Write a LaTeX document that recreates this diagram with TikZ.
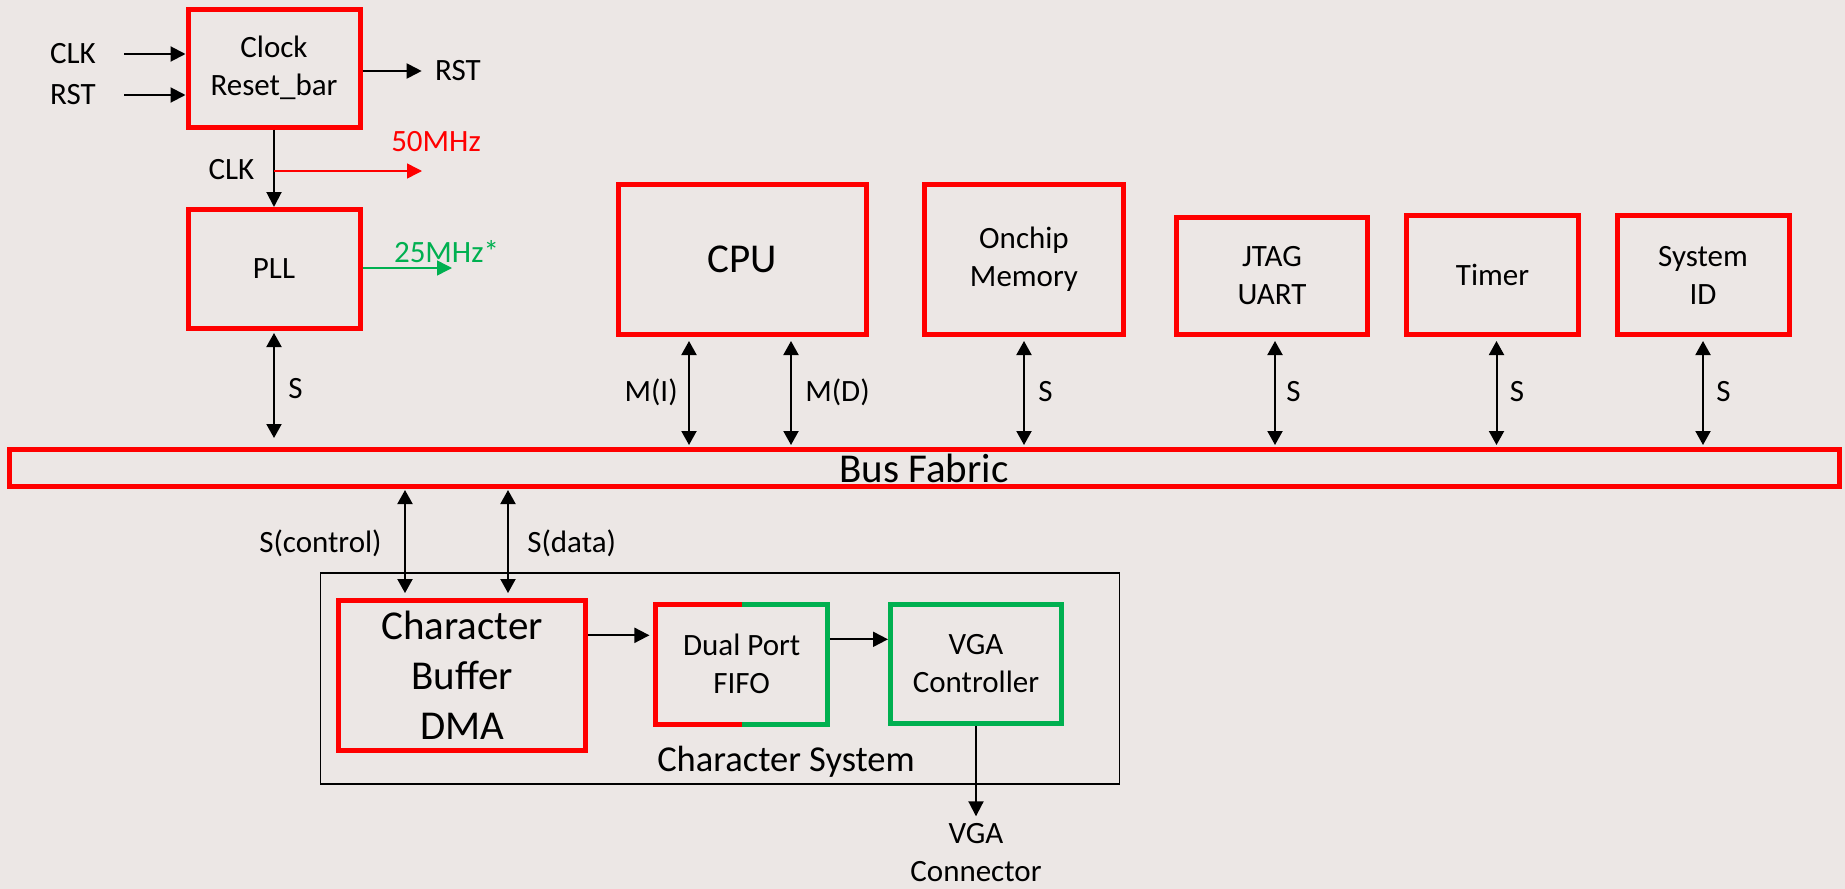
\documentclass[tikz,border=0pt]{standalone}
\usepackage{fontspec}
\setmainfont{Carlito}
\usetikzlibrary{arrows.meta}

\definecolor{bgtan}{RGB}{236,231,229}
\definecolor{blkred}{RGB}{255,0,0}
\definecolor{blkgreen}{RGB}{0,176,80}

\tikzset{
  blk/.style={draw=blkred, line width=5pt, inner sep=0pt},
  small/.style={font=\fontsize{31}{38}\selectfont, align=center},
  big/.style={font=\fontsize{41}{50}\selectfont, align=center},
  arr/.style={-{Triangle[length=15pt,width=15pt]}, line width=2pt},
  biarr/.style={{Triangle[length=14pt,width=15pt]}-{Triangle[length=14pt,width=15pt]}, line width=2pt},
  tobus/.style={biarr, shorten <=4pt, shorten >=2pt}
}

\begin{document}
\begin{tikzpicture}[x=1pt,y=-1pt]
            \fill[bgtan] (0,0) rectangle (1845,889);
            \useasboundingbox (0,0) rectangle (1845,889);
            % clock and pll
            \node[blk, minimum width=172pt, minimum height=118pt, small] (clock) at (274,68) {Clock\\Reset\_bar};
            \node[blk, minimum width=172pt, minimum height=119pt, small] (pll) at (274,269) {PLL};
            \node[small] (clkin) at (73,54) {CLK};
            \node[small] (rstin) at (73,95) {RST};
            \node[small] (rstout) at (458,71) {RST};
            \node[small] (clkname) at (231.5,170) {CLK};
            \node[small, text=blkred] (f50) at (436,142) {50MHz};
            \node[small, text=blkgreen] (f25) at (446.5,252) {25MHz*};
            \coordinate (c50) at (422,171);
            \coordinate (c25) at (452,268);
            \draw[arr, shorten <=25pt] (clkin.east) -- (clkin.east -| clock.west);
            \draw[arr, shorten <=25pt] (rstin.east) -- (rstin.east -| clock.west);
            \draw[arr, shorten >=10pt] (clock.east |- rstout) -- (rstout.west);
            \draw[arr] (clock.south) -- (pll.north);
            \draw[arr, draw=blkred, fill=blkred, line width=1.5pt] (clock.south |- c50) -- (c50);
            \draw[arr, draw=blkgreen, fill=blkgreen, line width=1.5pt] (pll.east |- c25) -- (c25);
            % top row
            \node[blk, minimum width=248pt, minimum height=150pt, big] (cpu) at (742,259.5) {CPU};
            \node[blk, minimum width=199pt, minimum height=150pt, small] (mem) at (1024,259.5) {Onchip\\Memory};
            \node[blk, minimum width=191pt, minimum height=117pt, small] (jtag) at (1272,276) {JTAG\\UART};
            \node[blk, minimum width=172pt, minimum height=119pt, small] (timer) at (1492.5,275) {Timer};
            \node[blk, minimum width=172pt, minimum height=119pt, small] (sysid) at (1703,275) {System\\ID};
            % bus
            \node[blk, minimum width=1830pt, minimum height=37pt, big] (bus) at (924,468) {Bus Fabric};
            \draw[biarr, shorten <=2pt, shorten >=9pt] (pll.south) -- (pll.south |- bus.north) node[midway, right=10pt, small] {S};
            \draw[tobus] ([xshift=-53pt]cpu.south) -- ([xshift=-53pt]cpu.south |- bus.north) node[midway, left=7pt, small] {M(I)};
            \draw[tobus] ([xshift=49pt]cpu.south) -- ([xshift=49pt]cpu.south |- bus.north) node[midway, right=10pt, small] {M(D)};
            \draw[tobus] (mem.south) -- (mem.south |- bus.north) node[midway, right=10pt, small] {S};
            \draw[tobus] ([xshift=3pt]jtag.south) -- ([xshift=3pt]jtag.south |- bus.north) node[midway, right=7pt, small] {S};
            \draw[tobus] ([xshift=4pt]timer.south) -- ([xshift=4pt]timer.south |- bus.north) node[midway, right=9pt, small] {S};
            \draw[tobus] (sysid.south) -- (sysid.south |- bus.north) node[midway, right=9pt, small] {S};
            % character system
            \node[draw, line width=1.5pt, minimum width=799pt, minimum height=211pt, inner sep=0pt] (charsys) at (720,678.4) {};
            \node[font=\fontsize{36.5}{44}\selectfont] (charsysname) at (786,762) {Character System};
            \node[blk, minimum width=247pt, minimum height=149.5pt, big] (dma) at (462,675.3) {Character\\Buffer\\DMA};
            \node[blk, minimum width=171.5pt, minimum height=119.5pt, small] (fifo) at (741.7,664.3) {Dual Port\\FIFO};
            \draw[draw=blkgreen, line width=5pt] ([yshift=-2.5pt]fifo.north) -| ([xshift=-2.5pt,yshift=2.5pt]fifo.south east) -- ([yshift=2.5pt]fifo.south);
            \node[blk, draw=blkgreen, minimum width=171pt, minimum height=119pt, small] (vga) at (976,663.9) {VGA\\Controller};
            \node[small] (vgacon) at (976,853) {VGA\\Connector};
            \draw[biarr, shorten <=1pt, shorten >=5pt] ([xshift=-57pt]dma.north |- bus.south) -- ([xshift=-57pt]dma.north) node[midway, left=19pt, small] {S(control)};
            \draw[biarr, shorten <=1pt, shorten >=5pt] ([xshift=46pt]dma.north |- bus.south) -- ([xshift=46pt]dma.north) node[midway, right=15pt, small] {S(data)};
            \draw[arr, shorten >=4pt] ([yshift=40pt]dma.east) -- ([yshift=40pt]dma.east -| fifo.west);
            \draw[arr] ([yshift=25pt]fifo.east) -- ([yshift=25pt]fifo.east -| vga.west);
            \draw[arr, shorten >=4pt] (vga.south) -- (vga.south |- vgacon.north);
        \end{tikzpicture}
\end{document}
